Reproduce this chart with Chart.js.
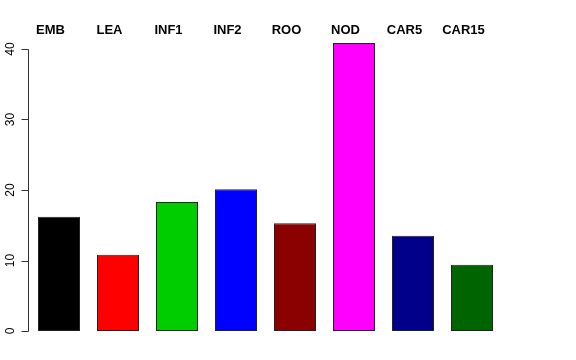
<!DOCTYPE html>
<html>
<head>
<meta charset="utf-8">
<script src="https://cdn.jsdelivr.net/npm/chart.js@4/dist/chart.umd.min.js"></script>
<style>
  html, body { margin: 0; padding: 0; background: #fff; }
  #wrap { width: 576px; height: 360px; }
</style>
</head>
<body>
<div id="wrap"><canvas id="c" width="576" height="360"></canvas></div>
<script>
const tissues = ['EMB', 'LEA', 'INF1', 'INF2', 'ROO', 'NOD', 'CAR5', 'CAR15'];
const counts = [16.2, 10.8, 18.3, 20.1, 15.3, 40.85, 13.5, 9.4];
const barColors = ['#000000', '#ff0000', '#00cd00', '#0000ff', '#8b0000', '#ff00ff', '#00008b', '#006400'];
const yTicks = [0, 10, 20, 30, 40];

// R-style left axis with rotated labels + bold names above the bars
const rAxes = {
  id: 'rAxes',
  afterDraw(chart) {
    const ctx = chart.ctx;
    const y = chart.scales.y;
    const x = chart.scales.x;
    const axX = 28.5;
    ctx.save();
    ctx.strokeStyle = '#333';
    ctx.lineWidth = 1;
    ctx.beginPath();
    ctx.moveTo(axX, Math.round(y.getPixelForValue(yTicks[0])) + 0.5);
    ctx.lineTo(axX, Math.round(y.getPixelForValue(yTicks[yTicks.length - 1])) + 0.5);
    yTicks.forEach(t => {
      const py = Math.round(y.getPixelForValue(t)) + 0.5;
      ctx.moveTo(axX, py);
      ctx.lineTo(axX - 7, py);
    });
    ctx.stroke();

    ctx.fillStyle = '#000';
    ctx.font = '12px "Liberation Sans", Arial, sans-serif';
    ctx.textAlign = 'center';
    ctx.textBaseline = 'middle';
    yTicks.forEach(t => {
      const py = y.getPixelForValue(t);
      ctx.save();
      ctx.translate(11, py);
      ctx.rotate(-Math.PI / 2);
      ctx.fillText(String(t), 0, 0);
      ctx.restore();
    });

    ctx.font = 'bold 13px "Liberation Sans", Arial, sans-serif';
    ctx.textBaseline = 'alphabetic';
    tissues.forEach((name, i) => {
      ctx.fillText(name, x.getPixelForValue(i) - 8.5, 34);
    });
    ctx.restore();
  }
};

new Chart(document.getElementById('c'), {
  type: 'bar',
  data: {
    labels: tissues,
    datasets: [{
      data: counts,
      backgroundColor: barColors,
      borderColor: '#222',
      borderWidth: 1,
      borderSkipped: false,
      barPercentage: 42 / 59,
      categoryPercentage: 1
    }]
  },
  options: {
    responsive: false,
    animation: false,
    layout: { padding: { left: 29.5, right: 74.5, top: 31.5, bottom: 17.5 } },
    plugins: { legend: { display: false }, tooltip: { enabled: false } },
    scales: {
      x: { display: false },
      y: { display: false, min: -1.63, max: 42.48 }
    }
  },
  plugins: [rAxes]
});
</script>
</body>
</html>
